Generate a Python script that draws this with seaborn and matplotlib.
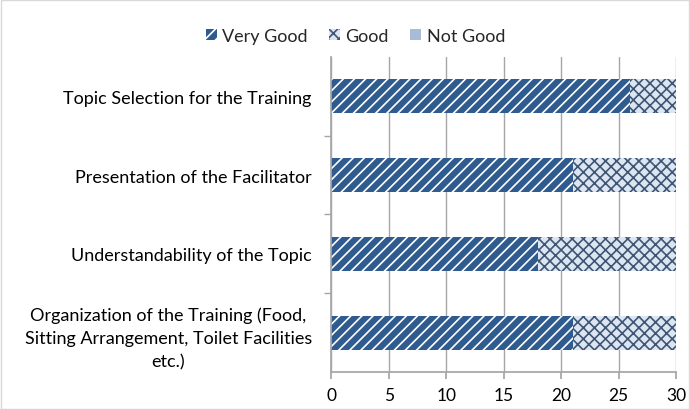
import pandas as pd
import matplotlib.pyplot as plt
import seaborn as sns
from matplotlib.patches import Patch, Rectangle

# data
aspects = ["Topic Selection for the Training",
           "Presentation of the Facilitator",
           "Understandability of the Topic",
           "Organization of the Training (Food,\nSitting Arrangement, Toilet Facilities\netc.)"]
very_good = [26, 21, 18, 21]
good = [4, 9, 12, 9]
not_good = [0, 0, 0, 0]

df = pd.DataFrame({"Aspect": aspects, "Very Good": very_good,
                   "Good": good, "Not Good": not_good})
df["cum_good"] = df["Very Good"] + df["Good"]
df["cum_not"] = df["cum_good"] + df["Not Good"]

sns.set_theme(style="white")
plt.rcParams['font.family'] = ['Lato', 'DejaVu Sans']
plt.rcParams['hatch.linewidth'] = 1.2

fig = plt.figure(figsize=(6.9, 4.1), dpi=100)
ax = fig.add_axes([0.48, 0.09, 0.50, 0.769])

vg_col, g_col, ng_col = "#2F5B8F", "#DCE6F2", "#A8BBD9"
bw = 0.43

# stacked bars drawn back to front as cumulative totals
sns.barplot(data=df, x="cum_not", y="Aspect", color=ng_col, width=bw,
            orient="h", ax=ax, saturation=1, linewidth=0)
sns.barplot(data=df, x="cum_good", y="Aspect", color=g_col, width=bw,
            orient="h", ax=ax, saturation=1, linewidth=0)
sns.barplot(data=df, x="Very Good", y="Aspect", color=vg_col, width=bw,
            orient="h", ax=ax, saturation=1, linewidth=0)

n = len(aspects)
for i, p in enumerate(ax.patches):
    layer = i // n
    if layer == 1:
        p.set_hatch("xxx")
        p.set_edgecolor("#3F5573")
        p.set_linewidth(0)
    elif layer == 2:
        p.set_hatch("///")
        p.set_edgecolor("white")
        p.set_linewidth(0)
    else:
        p.set_linewidth(0)

ax.set_xlim(0, 30)
ax.set_xticks(range(0, 31, 5))
ax.set_ylim(3.5, -0.5)
ax.set_xlabel("")
ax.set_ylabel("")
ax.grid(axis="x", color="#A6A6A6", linewidth=1)
ax.set_axisbelow(True)
for s in ["top", "right"]:
    ax.spines[s].set_visible(False)
for s in ["left", "bottom"]:
    ax.spines[s].set_color("#A6A6A6")
ax.tick_params(axis="x", bottom=True, length=5, color="#A6A6A6",
               labelsize=12.5, labelcolor="black", pad=6)
ax.tick_params(axis="y", left=False, length=0, labelsize=13,
               labelcolor="black", pad=14)
ax.set_yticks([0.5, 1.5, 2.5], minor=True)
ax.tick_params(axis="y", which="minor", left=True, length=5, color="#A6A6A6")
for lbl in ax.get_yticklabels():
    lbl.set_multialignment("center")
    lbl.set_linespacing(1.55)

handles = [Patch(facecolor=vg_col, edgecolor="white", hatch="///", linewidth=0),
           Patch(facecolor=g_col, edgecolor="#3F5573", hatch="xxx", linewidth=0),
           Patch(facecolor=ng_col, linewidth=0)]
fig.legend(handles, ["Very Good", "Good", "Not Good"], loc="center",
           bbox_to_anchor=(0.515, 0.91), ncol=3, frameon=False, fontsize=13,
           handlelength=0.6, handleheight=0.6, handletextpad=0.3, columnspacing=1.2)

fig.patches.append(Rectangle((0.001, 0.001), 0.998, 0.997, transform=fig.transFigure,
                             fill=False, edgecolor="#D9D9D9", linewidth=1))

fig.savefig("out.png", dpi=100)
